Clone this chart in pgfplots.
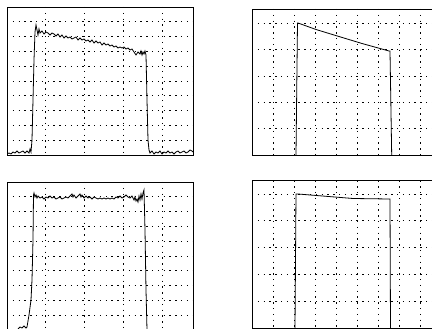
\documentclass[border=0pt]{standalone}
\usepackage{pgfplots}
\pgfplotsset{compat=1.18}
\begin{document}
\begin{tikzpicture}[x=1pt,y=1pt]
\useasboundingbox (0,0) rectangle (432,329);
\clip (0,0) rectangle (432,329);
\pgfplotsset{panel/.style={scale only axis, y dir=reverse,
  axis line style={black, line width=0.9pt},
  xticklabels={}, yticklabels={}, major tick length=0pt,
  grid=major, major grid style={black, line width=0.8pt, dash pattern=on 1.4pt off 4.4pt},
  clip=true},
  trace/.style={black, line width=0.8pt, no marks}}
% top-left
\begin{axis}[panel, at={(100pt,248pt)}, anchor=center, width=186pt, height=148pt,
  xmin=7, xmax=193, ymin=7, ymax=155,
  xtick={45.5,84,123,162},
  ytick={21.8,36.6,51.4,66.2,81,95.8,110.6,125.4,140.2}]
\addplot[trace] coordinates {
(7,154) (9,153) (11,154) (13,152) (15,153) (17,151) (19,153) (21,152) (23,151) (25,153) (27,151) (29,153) (30,149) (31,152) (32,140) (33,100) (34,60) (35,32) (36,25) (37,30) (38,35) (39,29) (40,33) (42,31) (44,34) (46,32) (48,33) (50,35) (52,33) (54,34) (56,36) (58,34) (60,37) (62,35) (64,38) (66,36) (68,38) (70,37) (72,39) (74,38) (76,37) (78,40) (80,38) (82,40) (84,39) (86,41) (88,40) (90,42) (92,40) (94,43) (96,41) (98,43) (100,42) (102,45) (104,43) (106,45) (108,44) (110,46) (112,45) (114,47) (116,46) (118,48) (120,47) (122,48) (124,47) (126,49) (128,48) (130,50) (132,49) (134,52) (136,55) (138,52) (140,54) (141,51) (142,55) (143,52) (144,54) (145,51) (146,55) (147,100) (148,140) (149,150) (150,153) (152,151) (154,154) (156,152) (158,153) (160,151) (162,154) (164,152) (166,153) (168,151) (170,153) (172,152) (174,154) (176,152) (178,151) (180,153) (182,152) (184,151) (186,153) (188,152) (190,150) (192,151) (193,152)
};
\end{axis}
% bottom-left
\begin{axis}[panel, at={(100pt,73pt)}, anchor=center, width=186pt, height=148pt,
  xmin=7, xmax=193, ymin=182, ymax=330,
  xtick={45.5,84,123,162},
  ytick={196.8,211.6,226.4,241.2,256,270.8,285.6,300.4,315.2}]
\addplot[trace] coordinates {
(18,329) (20,327) (22,328) (24,326) (26,328) (27,327) (29,315) (31,300) (32,280) (33,240) (33.5,195) (34,193) (35,197) (36,195) (37,198) (38,196) (40,198) (42,197) (44,199) (46,197) (48,198) (50,196) (52,198) (54,197) (56,199) (58,198) (60,197) (62,199) (64,198) (66,197) (68,198) (70,196) (72,194) (73,197) (74,195) (76,198) (78,196) (80,194) (81,197) (82,195) (84,198) (86,196) (88,198) (90,197) (92,199) (94,197) (96,198) (98,199) (100,198) (102,199) (104,198) (106,199) (108,198) (110,199) (112,198) (114,199) (116,197) (118,198) (120,196) (122,198) (124,197) (126,195) (128,197) (130,198) (132,196) (134,200) (135,197) (136,201) (137,199) (138,202) (139,196) (140,200) (141,194) (142,199) (143,193) (144,190) (145,230) (146,290) (147,330)
};
\end{axis}
% top-right
\begin{axis}[panel, at={(346pt,247pt)}, anchor=center, width=188pt, height=146pt,
  xmin=252, xmax=440, ymin=9, ymax=155,
  xtick={273,294,315,336,357,378,399,420},
  ytick={23,49.5,76,102.5,128.5}]
\addplot[trace] coordinates {
(296,155) (297.5,23) (298,23) (316,29.5) (335,35.3) (362,43.5) (389,51) (390,51) (391.7,155)
};
\end{axis}
% bottom-right
\begin{axis}[panel, at={(346pt,74.5pt)}, anchor=center, width=188pt, height=148pt,
  xmin=252, xmax=440, ymin=180.5, ymax=328.5,
  xtick={273,294,315,336,357,378,399,420},
  ytick={194,220.5,247.5,274.5,301.5}]
\addplot[trace] coordinates {
(295,328.5) (296,194) (298,194) (353,198.5) (389,199) (390,199) (390.5,328.5)
};
\end{axis}
\end{tikzpicture}
\end{document}
